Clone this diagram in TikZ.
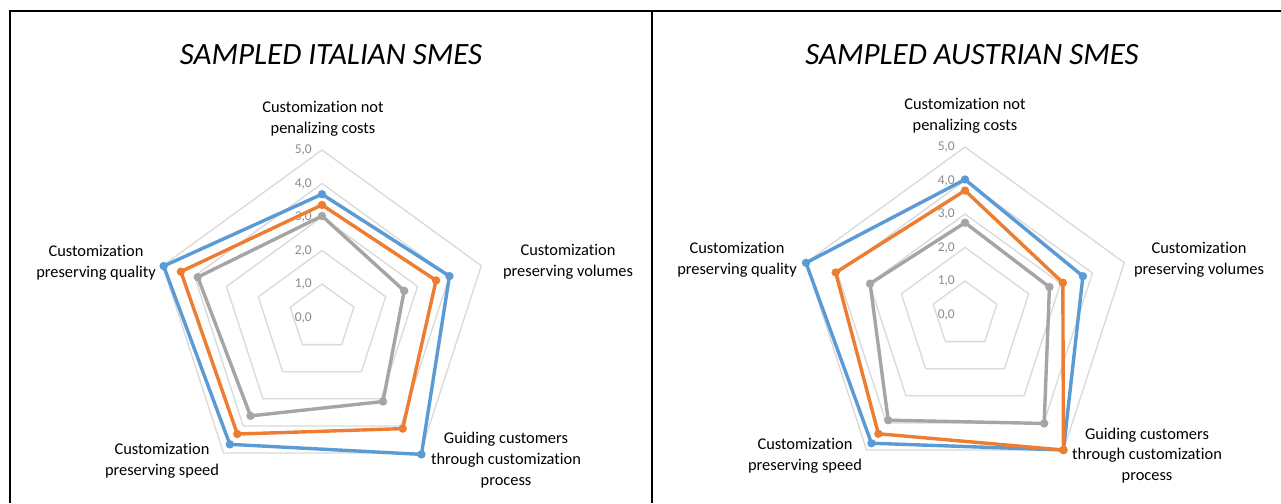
\documentclass[tikz,border=0pt]{standalone}
\usepackage{fontspec}
\setmainfont[Ligatures=NoCommon]{Carlito}
\definecolor{serblue}{HTML}{5B9BD5}
\definecolor{serorange}{HTML}{ED7D31}
\definecolor{sergrey}{HTML}{A5A5A5}
\definecolor{gridgrey}{HTML}{D9D9D9}
\definecolor{ticktext}{HTML}{8C8C8C}
\newcommand\radunit{33.5}
% one data series: values on the axes top, upper right, lower right, lower left, upper left
\newcommand\drawseries[6]{%
  \draw[serline,#1] (-90:{#2*\radunit}) -- (-18:{#3*\radunit}) -- (54:{#4*\radunit})
     -- (126:{#5*\radunit}) -- (198:{#6*\radunit}) -- cycle;
  \foreach \a/\v in {-90/#2,-18/#3,54/#4,126/#5,198/#6}
    \fill[#1] (\a:{\v*\radunit}) circle (4.2);
}
% pentagonal grid with its scale labels
\newcommand\drawgrid{%
  \foreach \l in {1,...,5}
    \draw[gridline] (-90:{\l*\radunit}) -- (-18:{\l*\radunit}) -- (54:{\l*\radunit})
       -- (126:{\l*\radunit}) -- (198:{\l*\radunit}) -- cycle;
  \foreach \l in {0,...,5}
    \node[ticklabel] (tick\l) at (-10,{-\l*\radunit}) {\l,0};
}
\begin{document}
\begin{tikzpicture}[x=1pt,y=-1pt,
  gridline/.style={draw=gridgrey,line width=1.3pt},
  serline/.style={line width=3.4pt,line join=round},
  ticklabel/.style={anchor=east,text=ticktext,font=\fontsize{13.5}{15}\selectfont,inner sep=0pt},
  axislabel/.style={align=center,font=\fontsize{16.4}{20.8}\selectfont,inner sep=0pt},
  charttitle/.style={font=\fontsize{31}{36}\selectfont\itshape,inner sep=0pt}]
\useasboundingbox (0,0) rectangle (1281,503);
\fill[white] (0,0) rectangle (1281,503);

% frame
\draw[line width=2pt] (10,503) -- (10,11) -- (1281,11);
\draw[line width=2pt] (652,11) -- (652,503);

% ---------- Italian SMEs ----------
\node[charttitle] (titleit) at (331,55) {SAMPLED ITALIAN SMES};
\begin{scope}[shift={(322,317.5)}]
  \drawgrid
  \drawseries{serblue}{3.68}{4.0}{5.05}{4.68}{4.97}
  \drawseries{serorange}{3.36}{3.58}{4.1}{4.3}{4.43}
  \drawseries{sergrey}{3.03}{2.58}{3.1}{3.63}{3.9}
\end{scope}
\node[axislabel] (itcost) at (323,119) {Customization not\\penalizing costs};
\node[axislabel] (itvol) at (568,262) {Customization\\preserving volumes};
\node[axislabel] (itguide) at (506,460) {Guiding customers\\through customization\\process};
\node[axislabel] (itspeed) at (162,460.5) {Customization\\preserving speed};
\node[axislabel] (itqual) at (96,263) {Customization\\preserving quality};

% ---------- Austrian SMEs ----------
\node[charttitle] (titleat) at (972,55) {SAMPLED AUSTRIAN SMES};
\begin{scope}[shift={(965,314.5)}]
  \drawgrid
  \drawseries{serblue}{4.03}{3.7}{5.0}{4.75}{4.99}
  \drawseries{serorange}{3.7}{3.07}{5.0}{4.4}{4.06}
  \drawseries{sergrey}{2.74}{2.65}{4.02}{3.9}{2.98}
\end{scope}
\node[axislabel] (atcost) at (965,116) {Customization not\\penalizing costs};
\node[axislabel] (atvol) at (1199,260) {Customization\\preserving volumes};
\node[axislabel] (atguide) at (1147,455.5) {Guiding customers\\through customization\\process};
\node[axislabel] (atspeed) at (805,456) {Customization\\preserving speed};
\node[axislabel] (atqual) at (737,260) {Customization\\preserving quality};
\end{tikzpicture}
\end{document}
